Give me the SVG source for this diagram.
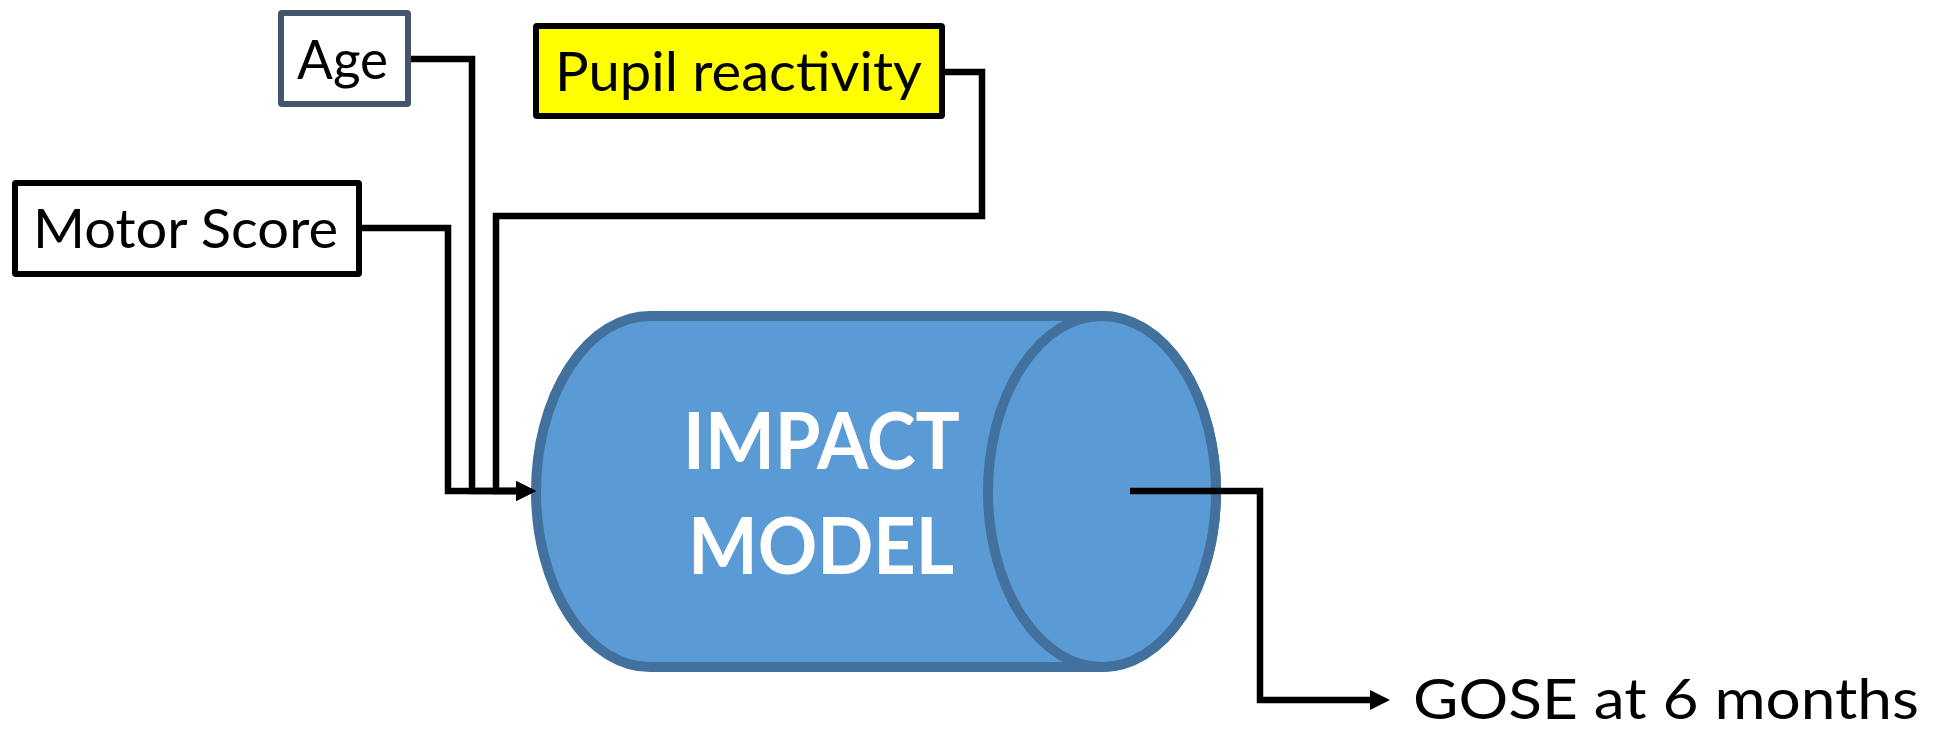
<svg xmlns="http://www.w3.org/2000/svg" width="1946" height="729" viewBox="0 0 1946 729">
  <style>
    .box { stroke: #000; stroke-width: 6; fill: #fff; }
    .lbl { font-family: Lato, "Open Sans", "Liberation Sans", sans-serif; font-size: 54px; fill: #000; }
    .big { font-family: Lato, "Open Sans", "Liberation Sans", sans-serif; font-size: 78px; font-weight: bold; fill: #fff; }
    .conn { fill: none; stroke: #000; stroke-width: 6.5; stroke-linejoin: miter; }
    .cyl { fill: #5b9bd5; stroke: #41719c; stroke-width: 10; }
  </style>
  <defs>
    <marker id="arrow" viewBox="0 0 20 20" refX="0" refY="10" markerWidth="20" markerHeight="20" markerUnits="userSpaceOnUse" orient="auto">
      <path d="M0,0 L20,10 L0,20 Z" fill="#000"/>
    </marker>
  </defs>
  <rect width="1946" height="729" fill="#fff"/>

  <g id="impact-model">
    <path class="cyl" d="M650,316 L1102,316 A114,175.5 0 0 1 1102,667 L650,667 A114,175.5 0 0 1 650,316 Z"/>
    <ellipse class="cyl" cx="1102" cy="491.5" rx="114" ry="175.5"/>
    <text class="big" x="683" y="469" textLength="277" lengthAdjust="spacingAndGlyphs">IMPACT</text>
    <text class="big" x="688" y="574" textLength="266" lengthAdjust="spacingAndGlyphs">MODEL</text>
  </g>

  <g id="connectors">
    <path class="conn" d="M362,228 H448 V491 H516" marker-end="url(#arrow)"/>
    <path class="conn" d="M411,59 H472 V491 H516" marker-end="url(#arrow)"/>
    <path class="conn" d="M945,72 H982 V216 H496 V491 H516" marker-end="url(#arrow)"/>
    <path class="conn" d="M1130,491 H1260 V700 H1370" marker-end="url(#arrow)"/>
  </g>

  <g id="age">
    <rect class="box" x="281" y="13" width="127" height="91" rx="1" style="stroke:#44546a"/>
    <text class="lbl" x="297" y="79" textLength="91" lengthAdjust="spacingAndGlyphs">Age</text>
  </g>

  <g id="motor-score">
    <rect class="box" x="15" y="183" width="344" height="91" rx="1"/>
    <text class="lbl" x="33" y="248" textLength="305" lengthAdjust="spacingAndGlyphs">Motor Score</text>
  </g>

  <g id="pupil-reactivity">
    <rect class="box" x="536" y="26" width="406" height="90" rx="1" style="fill:#ffff00"/>
    <text class="lbl" x="555" y="91" textLength="367" lengthAdjust="spacingAndGlyphs">Pupil reactivity</text>
  </g>

  <g id="gose">
    <text class="lbl" x="1413" y="719" style="font-size:57px" textLength="506" lengthAdjust="spacingAndGlyphs">GOSE at 6 months</text>
  </g>
</svg>
